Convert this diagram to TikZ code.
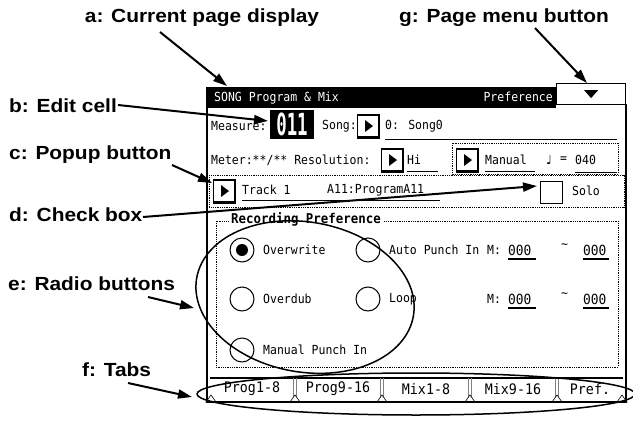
\documentclass[tikz,border=0pt]{standalone}
\usepackage{fontspec}
\setmainfont{Liberation Sans}
\newfontfamily\lblfont[FakeStretch=1.1]{Liberation Sans}
\newfontfamily\lcdfont[FakeStretch=0.92]{DejaVu Sans Mono}
\newfontfamily\symfont{DejaVu Sans}
\usetikzlibrary{arrows.meta}

\begin{document}
\begin{tikzpicture}[x=1pt,y=-1pt,
    lbl/.style={font=\lblfont\bfseries\fontsize{19}{19}\selectfont, inner sep=0pt, anchor=west},
    ptr/.style={line width=2pt, -{Triangle[length=14pt,width=9pt]}},
    lcd/.style={font=\lcdfont\fontsize{12.5}{12.5}\selectfont, inner sep=0pt, anchor=west},
    popbox/.style={draw, line width=1.2pt, minimum width=21pt, minimum height=22pt, inner sep=0pt},
    radio/.style={draw, circle, line width=1pt, minimum size=24pt, inner sep=0pt},
    dots/.style={densely dotted, line width=0.8pt}
]
    \useasboundingbox (0,0) rectangle (633,421);

    % screen
    \draw[line width=1.5pt] (207,87) -- (207,402) -- (626,402) -- (626,104);
    \fill (207,87) rectangle (556,108);
    \node[lcd, text=white] (pgname) at (214,98) {SONG Program \& Mix};
    \node[lcd, text=white, anchor=east] (pgsub) at (553,97) {Preference};
    \node[draw, fill=white, line width=1.2pt, minimum width=69pt, minimum height=21pt,
        inner sep=0pt, anchor=north west] (menu) at (556,83) {};
    \fill (menu.center) ++(-7,-4) -- ++(14,0) -- ++(-7,8) -- cycle;

    \node[lcd] (measure) at (211,126) {Measure:};
    \node[fill=black, text=white, minimum width=44pt, minimum height=29pt, inner sep=0pt,
        font=\lcdfont\bfseries\fontsize{21}{21}\selectfont] (cell) at (292,124.5)
        {\scalebox{0.9}[1.45]{011}};
    \node[lcd] (song) at (322,126) {Song:};
    \node[lcd] (songname) at (385,126) {0: Song0};
    \draw (385,139) -- (617,139);

    \node[lcd] (meter) at (211,160) {Meter:**/** Resolution:};
    \node[lcd] (reso) at (407,160) {Hi};
    \draw (407,171) -- (438,171);
    \draw[dots] (452,143) rectangle (618,174);
    \node[lcd] (tempo) at (485,160) {Manual};
    \draw (485,171) -- (535,171);
    \node[lcd] (note) at (546,160) {\symfont ♩};
    \node[lcd] (eq) at (560,160) {=};
    \node[lcd] (bpm) at (575,160) {040};
    \draw (575,172) -- (617,172);

    \draw[dots] (209,175) rectangle (624,207);
    \node[lcd] (track) at (242,190) {Track 1};
    \node[lcd] (prog) at (327,190) {A11:ProgramA11};
    \draw (242,200) -- (440,200);
    \node[draw, line width=1pt, minimum size=22pt, inner sep=0pt] (solobox) at (551.5,192) {};
    \node[lcd] (solo) at (572,191) {Solo};

    \foreach \n/\x/\y in {song/368/126, reso/392/160, tempo/467/160, track/224/191}{
        \node[popbox] (pop\n) at (\x,\y) {};
        \draw[line width=2pt] (pop\n.north east) -- (pop\n.south east) -- (pop\n.south west);
        \fill (pop\n.center) ++(-3,-6) -- ++(0,12) -- ++(8,-6) -- cycle;
    }

    \draw[dots] (216,221) rectangle (618,367);
    \node[lcd, font=\lcdfont\bfseries\fontsize{13.5}{13.5}\selectfont, fill=white, inner xsep=2pt]
        (recpref) at (229,219) {Recording Preference};
    \foreach \n/\x/\y/\t in {ow/242/250/Overwrite, ap/368/250/Auto Punch In,
        od/242/299/Overdub, lp/368/299/Loop, mp/242/350/Manual Punch In}{
        \node[radio] (rb\n) at (\x,\y) {};
        \node[lcd] (rt\n) at (\x+21,\y) {\t};
    }
    \fill (rbow) circle[radius=6pt];
    \foreach \r/\y in {1/250, 2/299}{
        \node[lcd] (m\r) at (487,\y) {M:};
        \node[lcd, font=\lcdfont\fontsize{14}{14}\selectfont] (from\r) at (508,\y) {000};
        \node[lcd] (tilde\r) at (561,\y-4) {\textasciitilde};
        \node[lcd, font=\lcdfont\fontsize{14}{14}\selectfont] (to\r) at (583,\y) {000};
        \draw[line width=2pt] (508,\y+9) -- (536,\y+9);
        \draw[line width=2pt] (583,\y+9) -- (609,\y+9);
    }

    % tabs
    \draw[line width=1.2pt] (210,378) -- (623,378);
    \foreach \x in {295,382,470,557}{
        \draw[gray, line width=0.8pt] (\x-1.5,378) -- (\x-1.5,402) (\x+1.5,378) -- (\x+1.5,402);
    }
    \foreach \x in {211,295,382,470,557,622}
        \draw[fill=white, line width=0.6pt] (\x,395) -- (\x-5,402) -- (\x+5,402) -- cycle;
    \draw[line width=2pt] (207,402) -- (626,402);
    \foreach \n/\x/\t in {1/252/Prog1-8, 2/338/Prog9-16, 3/426/Mix1-8, 4/513/Mix9-16, 5/590/Pref.}
        \node[lcd, anchor=center, font=\lcdfont\fontsize{14.5}{14.5}\selectfont] (tab\n) at (\x,389) {\t};

    % rings
    \coordinate (tabsmid) at (416,394);
    \draw[line width=1.5pt] (tabsmid) ellipse [x radius=219pt, y radius=21pt];
    \coordinate (radmid) at (305,297);
    \draw[line width=1.5pt, rotate around={-10:(radmid)}] (radmid) ellipse [x radius=110pt, y radius=75pt];

    % callouts
    \node[lbl, anchor=center] (lbla) at (202,18) {a: Current page display};
    \node[lbl, anchor=center] (lblg) at (504,18) {g: Page menu button};
    \node[lbl] (lblb) at (9,106) {b: Edit cell};
    \node[lbl] (lblc) at (9,155) {c: Popup button};
    \node[lbl] (lbld) at (9,215) {d: Check box};
    \node[lbl] (lble) at (8,284) {e: Radio buttons};
    \node[lbl] (lblf) at (82,370) {f: Tabs};

    \coordinate (ta) at (160,32);   \coordinate (ha) at (227,86);
    \coordinate (tg) at (535,28);   \coordinate (hg) at (587,83);
    \coordinate (tb) at (118,105);  \coordinate (hb) at (268,121);
    \coordinate (tc) at (172,165);  \coordinate (hc) at (212,183);
    \coordinate (td) at (143,217);  \coordinate (hd) at (537,186);
    \coordinate (te) at (148,297);  \coordinate (he) at (194,308);
    \coordinate (tf) at (128,383);  \coordinate (hf) at (192,397);
    \foreach \p in {a,g,b,c,d,e,f}
        \draw[ptr] (t\p) -- (h\p);
\end{tikzpicture}
\end{document}
